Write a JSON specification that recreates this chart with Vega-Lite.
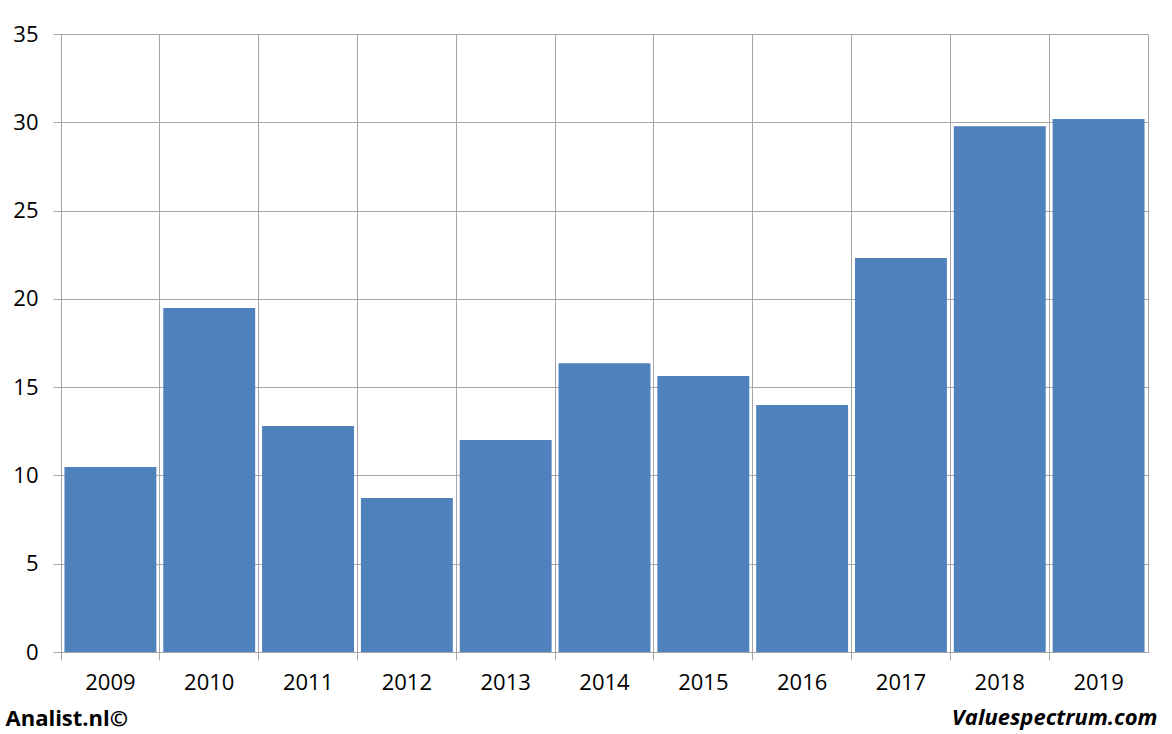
{
  "$schema": "https://vega.github.io/schema/vega-lite/v6.json",
  "width": 1087,
  "height": 618,
  "autosize": {"type": "none"},
  "padding": {"left": 61, "top": 34, "right": 24, "bottom": 82},
  "background": "white",
  "data": {"values": [
    {"year": "2009", "value": 10.48},
    {"year": "2010", "value": 19.48},
    {"year": "2011", "value": 12.8},
    {"year": "2012", "value": 8.72},
    {"year": "2013", "value": 12.0},
    {"year": "2014", "value": 16.36},
    {"year": "2015", "value": 15.63},
    {"year": "2016", "value": 13.99},
    {"year": "2017", "value": 22.31},
    {"year": "2018", "value": 29.78},
    {"year": "2019", "value": 30.18}
  ]},
  "mark": {"type": "bar", "color": "#4f81bd"},
  "encoding": {
    "x": {
      "field": "year", "type": "ordinal",
      "scale": {"paddingInner": 0.07, "paddingOuter": 0.035},
      "axis": {
        "title": "Valuespectrum.com",
        "titleFont": "Open Sans", "titleFontSize": 22, "titleFontWeight": "bold", "titleFontStyle": "italic",
        "titleColor": "black", "titleAnchor": "end", "titleAlign": "right", "titleBaseline": "alphabetic",
        "titleX": 1096, "titleY": 72,
        "labelAngle": 0, "labelFont": "Open Sans", "labelFontSize": 22, "labelColor": "black",
        "labelPadding": 12,
        "bandPosition": -0.0376, "tickSize": 8, "tickColor": "#a6a6a6",
        "grid": true, "gridColor": "#a6a6a6",
        "domainColor": "#a6a6a6"
      }
    },
    "y": {
      "field": "value", "type": "quantitative",
      "scale": {"domain": [0, 35]},
      "axis": {
        "values": [0, 5, 10, 15, 20, 25, 30, 35],
        "title": "Analist.nl©",
        "titleFont": "Open Sans", "titleFontSize": 22, "titleFontWeight": "bold", "titleColor": "black",
        "titleAngle": 0, "titleAlign": "left", "titleBaseline": "alphabetic",
        "titleX": -56, "titleY": 691,
        "labelFont": "Open Sans", "labelFontSize": 22, "labelColor": "black",
        "labelPadding": 15, "tickSize": 8, "tickColor": "#a6a6a6",
        "grid": true, "gridColor": "#a6a6a6",
        "domainColor": "#a6a6a6"
      }
    }
  },
  "config": {
    "view": {"stroke": "#a6a6a6"}
  }
}
